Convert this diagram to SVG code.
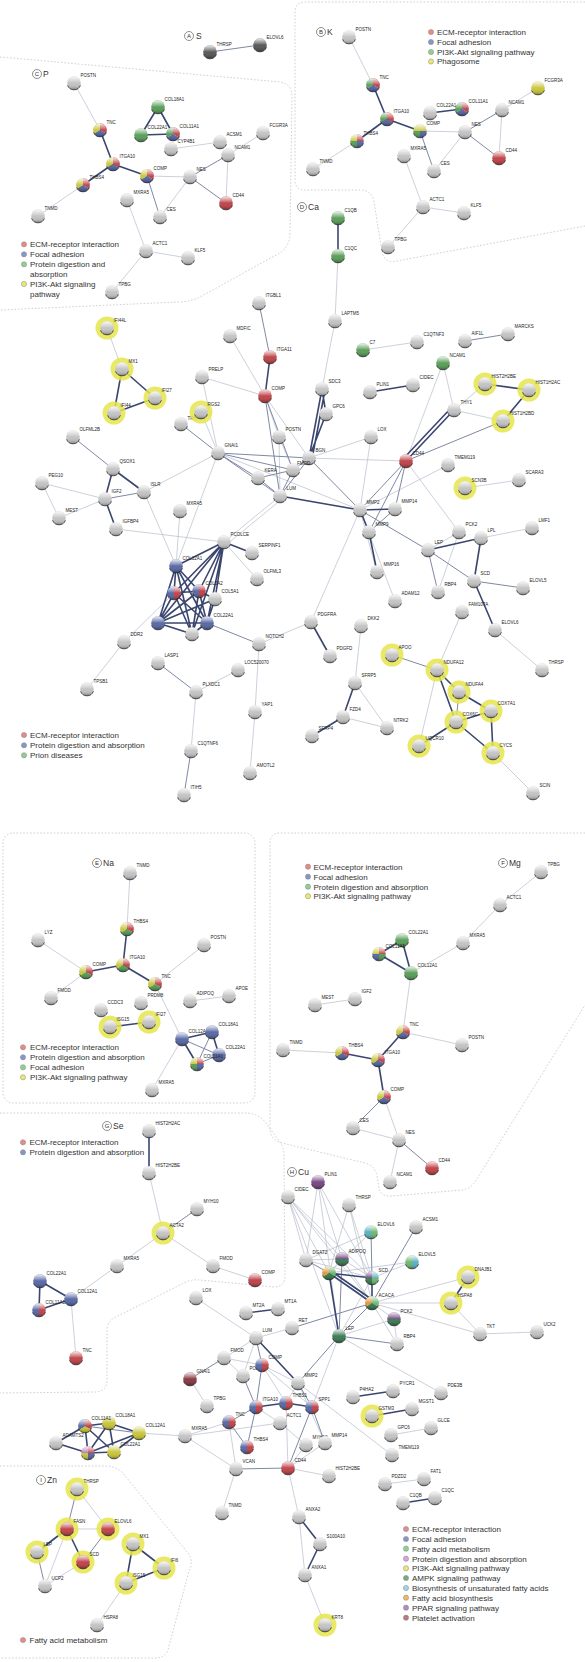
<svg xmlns="http://www.w3.org/2000/svg" xmlns:xlink="http://www.w3.org/1999/xlink" width="585" height="1662" viewBox="0 0 585 1662">
<style>
.l{font-family:"Liberation Sans",Arial,sans-serif;font-size:4.5px;fill:#222}
.lg{font-family:"Liberation Sans",Arial,sans-serif;font-size:8px;fill:#333}
.pn{font-family:"Liberation Sans",Arial,sans-serif;font-size:8.5px;fill:#333}
.pl{font-family:"Liberation Sans",Arial,sans-serif;font-size:6px;fill:#333;text-anchor:middle}
.pc{fill:#fff;stroke:#444;stroke-width:.6}
.ol{fill:none;stroke:#c4c4c4;stroke-width:.8;stroke-dasharray:1.6 1.8}
.e1{fill:none;stroke:#b8bccb;stroke-width:.7}
.e2{fill:none;stroke:#7f88a5;stroke-width:1}
.e3{fill:none;stroke:#3a4670;stroke-width:1.6}
.gy{fill:#c4c4c4}.dk{fill:#5a5a5a}
.R{fill:#c0474c}.B{fill:#5b6ba6}.G{fill:#5c9f5c}.Y{fill:#c9c63e}
.T{fill:#5fb0c2}.FA{fill:#72b872}.AM{fill:#3f7d57}.O{fill:#dc9a3e}.PP{fill:#7a4a86}.PD{fill:#b77ab7}.PA{fill:#8a3d47}
.rg{fill:#e5e54a;fill-opacity:.85}
.ld{stroke:#888;stroke-width:.5}
.lr{fill:#e68a8a}.lb{fill:#8796c8}.lgn{fill:#8fcf8f}.ly{fill:#e8e872}.lt{fill:#9ad6e6}.lo{fill:#f0b866}.lpd{fill:#dca0dc}.lpp{fill:#b48ac4}.lam{fill:#6fae82}.lpa{fill:#b87884}
</style>
<defs>
<linearGradient id="gl" x1="0" y1="0" x2="0" y2="1">
<stop offset="0" stop-color="#fff" stop-opacity=".9"/>
<stop offset=".35" stop-color="#fff" stop-opacity=".3"/>
<stop offset=".5" stop-color="#fff" stop-opacity="0"/>
<stop offset=".8" stop-color="#000" stop-opacity=".08"/>
<stop offset="1" stop-color="#000" stop-opacity=".35"/>
</linearGradient>
<g id="sh"><circle r="6.8" fill="url(#gl)"/><path d="M-6.4,2.3A6.8,6.8 0 0 0 6.4,2.3" fill="none" stroke="#222" stroke-width="1" stroke-opacity=".75"/></g>
<path id="a3" d="M0,0L0,-6.8A6.8,6.8 0 0 1 5.889,3.4Z"/>
<path id="b3" d="M0,0L5.889,3.4A6.8,6.8 0 0 1 -5.889,3.4Z"/>
<path id="c3" d="M0,0L-5.889,3.4A6.8,6.8 0 0 1 0,-6.8Z"/>
<path id="a4" d="M0,0L0,-6.8A6.8,6.8 0 0 1 6.8,0Z"/>
<path id="b4" d="M0,0L6.8,0A6.8,6.8 0 0 1 0,6.8Z"/>
<path id="c4" d="M0,0L0,6.8A6.8,6.8 0 0 1 -6.8,0Z"/>
<path id="d4" d="M0,0L-6.8,0A6.8,6.8 0 0 1 0,-6.8Z"/>
<path id="a2" d="M0,0L0,-6.8A6.8,6.8 0 0 1 0,6.8Z"/>
<path id="b2" d="M0,0L0,6.8A6.8,6.8 0 0 1 0,-6.8Z"/>
</defs>
<rect width="585" height="1662" fill="#fff"/>

<g id="outlines">
<path class="ol" d="M585,2L305,2Q295,2 295,12L295,180Q295,190 305,190L360,190Q372,190 374,202L382,252Q385,264 397,261L585,226"/>
<path class="ol" d="M0,57L280,82Q292,84 292,96L290,235Q289,248 278,254L200,297Q190,302 178,302L0,310"/>
<rect class="ol" x="3" y="833" width="252" height="270" rx="10"/>
<path class="ol" d="M585,833L280,833Q270,833 270,843L270,1128Q270,1140 282,1143L365,1163Q375,1166 377,1176L379,1188Q381,1197 392,1196L462,1190Q470,1189 475,1182L585,1005"/>
<path class="ol" d="M0,1113L245,1113Q258,1113 265,1122L280,1142Q284,1148 284,1156L285,1276Q285,1287 274,1287L200,1280Q190,1279 182,1284L114,1318Q107,1322 107,1330L107,1380Q107,1392 95,1392L0,1393"/>
<path class="ol" d="M0,1466L105,1466Q115,1466 122,1472L188,1553Q194,1562 189,1571L168,1650Q165,1658 155,1658L0,1658"/>
</g>

<g id="panel-labels">
<circle class="pc" cx="189" cy="36" r="4.5"/><text class="pl" x="189" y="38.1">A</text><text class="pn" x="196" y="39">S</text>
<circle class="pc" cx="321" cy="32" r="4.5"/><text class="pl" x="321" y="34.1">B</text><text class="pn" x="327" y="35">K</text>
<circle class="pc" cx="37" cy="74" r="4.5"/><text class="pl" x="37" y="76.1">C</text><text class="pn" x="43" y="77">P</text>
<circle class="pc" cx="302" cy="207" r="4.5"/><text class="pl" x="302" y="209.1">D</text><text class="pn" x="308" y="210">Ca</text>
<circle class="pc" cx="97" cy="863" r="4.5"/><text class="pl" x="97" y="865.1">E</text><text class="pn" x="103" y="866">Na</text>
<circle class="pc" cx="503" cy="863" r="4.5"/><text class="pl" x="503" y="865.1">F</text><text class="pn" x="509" y="866">Mg</text>
<circle class="pc" cx="107" cy="1126" r="4.5"/><text class="pl" x="107" y="1128.1">G</text><text class="pn" x="113" y="1129">Se</text>
<circle class="pc" cx="292" cy="1172" r="4.5"/><text class="pl" x="292" y="1174.1">H</text><text class="pn" x="298" y="1175">Cu</text>
<circle class="pc" cx="41" cy="1480" r="4.5"/><text class="pl" x="41" y="1482.1">I</text><text class="pn" x="47" y="1483">Zn</text>
</g>

<g id="legends">
<g id="legend-B">
<circle class="ld lr" cx="431" cy="32" r="2.6"/><text class="lg" x="437" y="34.8">ECM-receptor interaction</text>
<circle class="ld lb" cx="431" cy="42" r="2.6"/><text class="lg" x="437" y="44.8">Focal adhesion</text>
<circle class="ld lgn" cx="431" cy="52" r="2.6"/><text class="lg" x="437" y="54.8">PI3K-Akt signaling pathway</text>
<circle class="ld ly" cx="431" cy="61.5" r="2.6"/><text class="lg" x="437" y="64.3">Phagosome</text>
</g>
<g id="legend-C">
<circle class="ld lr" cx="24" cy="244.3" r="2.6"/><text class="lg" x="30" y="247.1">ECM-receptor interaction</text>
<circle class="ld lb" cx="24" cy="254.3" r="2.6"/><text class="lg" x="30" y="257.1">Focal adhesion</text>
<circle class="ld lgn" cx="24" cy="264.3" r="2.6"/><text class="lg" x="30" y="267.1">Protein digestion and</text>
<text class="lg" x="30" y="276.8">absorption</text>
<circle class="ld ly" cx="24" cy="284" r="2.6"/><text class="lg" x="30" y="286.8">PI3K-Akt signaling</text>
<text class="lg" x="30" y="296.8">pathway</text>
</g>
<g id="legend-D">
<circle class="ld lr" cx="24" cy="735" r="2.6"/><text class="lg" x="30" y="737.8">ECM-receptor interaction</text>
<circle class="ld lb" cx="24" cy="745.3" r="2.6"/><text class="lg" x="30" y="748.1">Protein digestion and absorption</text>
<circle class="ld lgn" cx="24" cy="755.3" r="2.6"/><text class="lg" x="30" y="758.1">Prion diseases</text>
</g>
<g id="legend-E">
<circle class="ld lr" cx="23" cy="1047.3" r="2.6"/><text class="lg" x="30" y="1050.1">ECM-receptor interaction</text>
<circle class="ld lb" cx="23" cy="1057.3" r="2.6"/><text class="lg" x="30" y="1060.1">Protein digestion and absorption</text>
<circle class="ld lgn" cx="23" cy="1067.3" r="2.6"/><text class="lg" x="30" y="1070.1">Focal adhesion</text>
<circle class="ld ly" cx="23" cy="1077.3" r="2.6"/><text class="lg" x="30" y="1080.1">PI3K-Akt signaling pathway</text>
</g>
<g id="legend-F">
<circle class="ld lr" cx="308" cy="866.7" r="2.6"/><text class="lg" x="313.5" y="869.5">ECM-receptor interaction</text>
<circle class="ld lb" cx="308" cy="876.7" r="2.6"/><text class="lg" x="313.5" y="879.5">Focal adhesion</text>
<circle class="ld lgn" cx="308" cy="886.7" r="2.6"/><text class="lg" x="313.5" y="889.5">Protein digestion and absorption</text>
<circle class="ld ly" cx="308" cy="896.2" r="2.6"/><text class="lg" x="313.5" y="899">PI3K-Akt signaling pathway</text>
</g>
<g id="legend-G">
<circle class="ld lr" cx="23" cy="1142.3" r="2.6"/><text class="lg" x="29.5" y="1145.1">ECM-receptor interaction</text>
<circle class="ld lb" cx="23" cy="1152.3" r="2.6"/><text class="lg" x="29.5" y="1155.1">Protein digestion and absorption</text>
</g>
<g id="legend-H">
<circle class="ld lr" cx="406" cy="1529" r="2.6"/><text class="lg" x="412" y="1531.8">ECM-receptor interaction</text>
<circle class="ld lb" cx="406" cy="1539" r="2.6"/><text class="lg" x="412" y="1541.8">Focal adhesion</text>
<circle class="ld lgn" cx="406" cy="1548.7" r="2.6"/><text class="lg" x="412" y="1551.5">Fatty acid metabolism</text>
<circle class="ld lpd" cx="406" cy="1558.7" r="2.6"/><text class="lg" x="412" y="1561.5">Protein digestion and absorption</text>
<circle class="ld ly" cx="406" cy="1568.3" r="2.6"/><text class="lg" x="412" y="1571.1">PI3K-Akt signaling pathway</text>
<circle class="ld lam" cx="406" cy="1578" r="2.6"/><text class="lg" x="412" y="1580.8">AMPK signaling pathway</text>
<circle class="ld lt" cx="406" cy="1588" r="2.6"/><text class="lg" x="412" y="1590.8">Biosynthesis of unsaturated fatty acids</text>
<circle class="ld lo" cx="406" cy="1597.7" r="2.6"/><text class="lg" x="412" y="1600.5">Fatty acid biosynthesis</text>
<circle class="ld lpp" cx="406" cy="1607.7" r="2.6"/><text class="lg" x="412" y="1610.5">PPAR signaling pathway</text>
<circle class="ld lpa" cx="406" cy="1617.7" r="2.6"/><text class="lg" x="412" y="1620.5">Platelet activation</text>
</g>
<g id="legend-I">
<circle class="ld lr" cx="23" cy="1640" r="2.6"/><text class="lg" x="29.5" y="1642.8">Fatty acid metabolism</text>
</g>
</g>

<g id="connectors">
<path class="e2" d="M210,52L260,45"/>
<path class="e1" d="M74,83L100,130M83,185L38,216M147,176L190,177M190,177L160,217M228,155L226,203M228,155L263,133M171,149L220,142M127,200L146,251M146,251L188,258M146,251L112,292"/>
<path class="e2" d="M147,176L160,217M190,177L228,155M190,177L226,203"/>
<path class="e3" d="M100,130L113,164M113,164L83,185M113,164L147,176M158,107L141,135M158,107L173,134M141,135L173,134"/>
<path class="e1" d="M349,37L373,85M357,141L313,169M420,131L465,132M465,132L434,171M502,110L499,158M502,110L538,88M404,156L423,207M423,207L464,213M423,207L388,247"/>
<path class="e2" d="M420,131L434,171M465,132L502,110M465,132L499,158"/>
<path class="e3" d="M373,85L387,119M387,119L357,141M387,119L420,131M430,113L462,109"/>
<path class="e1" d="M338,256L335,321M335,321L322,389M363,350L417,342M443,363L454,410M443,363L406,461M454,410L485,384M454,410L503,421M406,461L309,458M406,461L459,532M448,465L360,510M465,488L519,480M371,437L309,458M371,437L360,510M230,336L265,396M202,377L265,396M202,377L218,453M265,396L279,437M265,396L309,458M279,437L280,496M279,437L293,470M201,412L218,453M218,453L360,510M218,453L144,492M218,453L176,566M180,511L176,566M144,492L176,566M105,499L42,483M105,499L59,518M42,483L59,518M116,529L224,542M107,328L122,369M224,542L280,496M226,545L282,499M224,542L257,579M360,510L377,572M360,510L311,622M360,510L395,601M428,550L459,532M459,532L438,592M481,538L532,528M495,630L542,670M462,612L437,670M419,746L437,670M493,753L533,793M311,622L259,644M361,626L355,683M355,683L387,728M343,717L387,728M259,644L255,712M255,712L250,773M196,692L238,670M196,692L191,751M124,642L87,689M124,642L174,593"/>
<path class="e2" d="M465,341L508,334M406,461L503,421M406,461L360,510M406,461L395,509M406,461L369,532M309,458L293,470M309,458L280,496M309,458L360,510M293,470L258,478M293,470L280,496M258,478L280,496M259,303L270,357M265,396L280,496M265,396L293,470M181,424L218,453M218,453L293,470M218,453L258,478M218,453L280,496M218,453L309,458M144,492L105,499M113,469L73,437M395,509L369,532M360,510L428,550M428,550L438,592M428,550L474,581M474,581L523,588M392,655L437,670M459,692L456,722M259,644L207,623M158,663L196,692M191,751L184,795"/>
<path class="e3" d="M338,218L338,256M322,389L326,414M322,389L309,458M325,390L312,459M326,414L309,458M370,392L413,385M485,384L529,390M529,390L503,421M454,410L406,461M451,408L403,459M270,357L265,396M122,369L155,398M122,369L114,413M114,413L155,398M144,492L113,469M113,469L105,499M105,499L116,529M224,542L252,553M224,542L176,566M224,542L174,593M224,542L199,591M224,542L215,599M224,542L158,623M224,542L192,634M224,542L207,623M176,566L174,593M176,566L199,591M176,566L158,623M176,566L192,634M176,566L207,623M174,593L199,591M174,593L158,623M174,593L192,634M174,593L207,623M199,591L215,599M199,591L158,623M199,591L192,634M199,591L207,623M215,599L207,623M158,623L192,634M158,623L207,623M192,634L207,623M215,599L158,623M280,496L360,510M360,510L395,509M360,510L369,532M369,532L377,572M428,550L481,538M481,538L474,581M474,581L495,630M437,670L459,692M437,670L456,722M459,692L491,711M491,711L456,722M491,711L493,753M456,722L493,753M456,722L419,746M311,622L330,656M355,683L343,717M343,717L312,736"/>
<path class="e1" d="M130,873L127,929M86,972L38,940M86,972L51,998M155,984L204,945M155,984L182,1039M190,1001L229,996M182,1039L152,1090"/>
<path class="e2" d="M182,1039L219,1055M212,1032L197,1064M219,1055L197,1064"/>
<path class="e3" d="M127,929L123,965M123,965L86,972M123,965L155,984M110,1027L149,1022M182,1039L212,1032M182,1039L197,1064M212,1032L219,1055"/>
<path class="e1" d="M541,872L500,905M500,905L463,943M463,943L411,973M411,973L403,1032M315,1005L355,999M403,1032L462,1045M342,1053L283,1050M384,1097L399,1140M353,1128L399,1140M399,1140L390,1182"/>
<path class="e2" d="M384,1097L353,1128M399,1140L432,1168"/>
<path class="e3" d="M402,940L379,954M402,940L411,973M379,954L411,973M403,1032L378,1060M378,1060L342,1053M378,1060L384,1097"/>
<path class="e1" d="M149,1173L163,1233M163,1233L117,1266M163,1233L213,1266M213,1266L255,1280M117,1266L71,1299M71,1299L76,1358"/>
<path class="e2" d="M163,1233L197,1209"/>
<path class="e3" d="M149,1131L149,1173M40,1281L71,1299M40,1281L39,1310M71,1299L39,1310"/>
<path class="e1" d="M77,1489L108,1529M67,1529L108,1529M67,1529L45,1586M83,1562L45,1586M126,1583L97,1625"/>
<path class="e2" d="M77,1489L67,1529M108,1529L83,1562M37,1552L45,1586"/>
<path class="e3" d="M67,1529L83,1562M67,1529L37,1552M133,1544L164,1568M133,1544L126,1583M126,1583L164,1568"/>
<path class="e1" d="M288,1197L342,1259M288,1197L329,1273M288,1197L339,1336M288,1197L372,1278M288,1197L306,1260M288,1197L372,1303M318,1182L342,1259M318,1182L339,1336M318,1182L306,1260M318,1182L372,1278M349,1205L329,1273M349,1205L372,1278M349,1205L372,1303M371,1232L306,1260M371,1232L329,1273M412,1262L372,1278M412,1262L329,1273M306,1260L342,1259M306,1260L372,1278M342,1259L329,1273M342,1259L372,1278M342,1259L372,1303M372,1278L339,1336M372,1303L394,1319M372,1303L397,1344M372,1303L468,1277M372,1303L451,1303M372,1303L480,1334M394,1319L397,1344M339,1336L394,1319M451,1303L480,1334M480,1334L537,1332M339,1336L312,1407M339,1336L441,1393M196,1298L256,1338M256,1338L292,1328M256,1338L224,1358M256,1338L243,1376M224,1358L262,1365M224,1358L243,1376M262,1365L298,1383M262,1365L286,1403M262,1365L312,1407M190,1379L207,1406M229,1422L185,1436M236,1469L222,1513M236,1469L185,1436M236,1469L229,1422M288,1468L325,1443M288,1468L329,1476M288,1468L299,1517M288,1468L306,1445M288,1468L286,1403M299,1517L305,1575M305,1575L325,1625M298,1383L325,1443M298,1383L392,1455M280,1423L306,1445M280,1423L256,1407M280,1423L185,1436M298,1383L286,1403M391,1435L431,1428M385,1484L424,1479M185,1436L139,1433"/>
<path class="e2" d="M371,1232L372,1278M416,1227L372,1303M306,1260L329,1273M342,1259L339,1336M372,1303L339,1336M372,1303L292,1328M339,1336L397,1344M339,1336L298,1383M256,1338L262,1365M190,1379L224,1358M262,1365L256,1407M243,1376L256,1407M256,1407L229,1422M229,1422L247,1447M256,1407L247,1447M236,1469L288,1468M288,1468L312,1407M312,1407L325,1443M312,1407L298,1383M85,1426L139,1433"/>
<path class="e3" d="M329,1273L372,1278M329,1273L372,1303M331,1271L374,1301M329,1273L339,1336M372,1278L372,1303M468,1277L451,1303M246,1313L278,1309M256,1338L298,1383M256,1407L286,1403M286,1403L312,1407M299,1517L320,1544M320,1544L305,1575M353,1397L393,1391M372,1416L412,1409M403,1503L435,1498M85,1426L109,1423M85,1426L56,1443M85,1426L88,1453M85,1426L114,1452M109,1423L139,1433M109,1423L114,1452M109,1423L88,1453M139,1433L114,1452M139,1433L88,1453M114,1452L88,1453M56,1443L88,1453"/>
</g>

<g id="nodes-A">
<g id="a-THRSP" transform="translate(210,52)"><circle class="dk" r="6.8"/><use href="#sh"/><text class="l" x="6.5" y="-6">THRSP</text></g>
<g id="a-ELOVL6" transform="translate(260,45)"><circle class="dk" r="6.8"/><use href="#sh"/><text class="l" x="6.5" y="-6">ELOVL6</text></g>
</g>

<g id="nodes-C">
<g id="c-POSTN" transform="translate(74,83)"><circle class="gy" r="6.8"/><use href="#sh"/><text class="l" x="6.5" y="-6">POSTN</text></g>
<g id="c-TNC" transform="translate(100,130)"><use href="#a3" class="R"/><use href="#b3" class="B"/><use href="#c3" class="Y"/><use href="#sh"/><text class="l" x="6.5" y="-6">TNC</text></g>
<g id="c-ITGA10" transform="translate(113,164)"><use href="#a3" class="R"/><use href="#b3" class="B"/><use href="#c3" class="Y"/><use href="#sh"/><text class="l" x="6.5" y="-6">ITGA10</text></g>
<g id="c-THBS4" transform="translate(83,185)"><use href="#a3" class="R"/><use href="#b3" class="B"/><use href="#c3" class="Y"/><use href="#sh"/><text class="l" x="6.5" y="-6">THBS4</text></g>
<g id="c-TNMD" transform="translate(38,216)"><circle class="gy" r="6.8"/><use href="#sh"/><text class="l" x="6.5" y="-6">TNMD</text></g>
<g id="c-COMP" transform="translate(147,176)"><use href="#a3" class="R"/><use href="#b3" class="B"/><use href="#c3" class="Y"/><use href="#sh"/><text class="l" x="6.5" y="-6">COMP</text></g>
<g id="c-COL18A1" transform="translate(158,107)"><circle class="G" r="6.8"/><use href="#sh"/><text class="l" x="6.5" y="-6">COL18A1</text></g>
<g id="c-COL22A1" transform="translate(141,135)"><circle class="G" r="6.8"/><use href="#sh"/><text class="l" x="6.5" y="-6">COL22A1</text></g>
<g id="c-COL11A1" transform="translate(173,134)"><use href="#a3" class="R"/><use href="#b3" class="B"/><use href="#c3" class="G"/><use href="#sh"/><text class="l" x="6.5" y="-6">COL11A1</text></g>
<g id="c-CYP4B1" transform="translate(171,149)"><circle class="gy" r="6.8"/><use href="#sh"/><text class="l" x="6.5" y="-6">CYP4B1</text></g>
<g id="c-ACSM1" transform="translate(220,142)"><circle class="gy" r="6.8"/><use href="#sh"/><text class="l" x="6.5" y="-6">ACSM1</text></g>
<g id="c-FCGR3A" transform="translate(263,133)"><circle class="gy" r="6.8"/><use href="#sh"/><text class="l" x="6.5" y="-6">FCGR3A</text></g>
<g id="c-NCAM1" transform="translate(228,155)"><circle class="gy" r="6.8"/><use href="#sh"/><text class="l" x="6.5" y="-6">NCAM1</text></g>
<g id="c-NES" transform="translate(190,177)"><circle class="gy" r="6.8"/><use href="#sh"/><text class="l" x="6.5" y="-6">NES</text></g>
<g id="c-CD44" transform="translate(226,203)"><circle class="R" r="6.8"/><use href="#sh"/><text class="l" x="6.5" y="-6">CD44</text></g>
<g id="c-CES" transform="translate(160,217)"><circle class="gy" r="6.8"/><use href="#sh"/><text class="l" x="6.5" y="-6">CES</text></g>
<g id="c-MXRA5" transform="translate(127,200)"><circle class="gy" r="6.8"/><use href="#sh"/><text class="l" x="6.5" y="-6">MXRA5</text></g>
<g id="c-ACTC1" transform="translate(146,251)"><circle class="gy" r="6.8"/><use href="#sh"/><text class="l" x="6.5" y="-6">ACTC1</text></g>
<g id="c-KLF5" transform="translate(188,258)"><circle class="gy" r="6.8"/><use href="#sh"/><text class="l" x="6.5" y="-6">KLF5</text></g>
<g id="c-TPBG" transform="translate(112,292)"><circle class="gy" r="6.8"/><use href="#sh"/><text class="l" x="6.5" y="-6">TPBG</text></g>
</g>

<g id="nodes-B">
<g id="b-POSTN" transform="translate(349,37)"><circle class="gy" r="6.8"/><use href="#sh"/><text class="l" x="6.5" y="-6">POSTN</text></g>
<g id="b-TNC" transform="translate(373,85)"><use href="#a3" class="R"/><use href="#b3" class="B"/><use href="#c3" class="G"/><use href="#sh"/><text class="l" x="6.5" y="-6">TNC</text></g>
<g id="b-ITGA10" transform="translate(387,119)"><use href="#a3" class="R"/><use href="#b3" class="B"/><use href="#c3" class="G"/><use href="#sh"/><text class="l" x="6.5" y="-6">ITGA10</text></g>
<g id="b-THBS4" transform="translate(357,141)"><use href="#a4" class="R"/><use href="#b4" class="B"/><use href="#c4" class="G"/><use href="#d4" class="Y"/><use href="#sh"/><text class="l" x="6.5" y="-6">THBS4</text></g>
<g id="b-TNMD" transform="translate(313,169)"><circle class="gy" r="6.8"/><use href="#sh"/><text class="l" x="6.5" y="-6">TNMD</text></g>
<g id="b-COMP" transform="translate(420,131)"><use href="#a4" class="Y"/><use href="#b4" class="B"/><use href="#c4" class="G"/><use href="#d4" class="Y"/><use href="#sh"/><text class="l" x="6.5" y="-6">COMP</text></g>
<g id="b-COL22A1" transform="translate(430,113)"><circle class="gy" r="6.8"/><use href="#sh"/><text class="l" x="6.5" y="-6">COL22A1</text></g>
<g id="b-COL11A1" transform="translate(462,109)"><use href="#a3" class="R"/><use href="#b3" class="B"/><use href="#c3" class="G"/><use href="#sh"/><text class="l" x="6.5" y="-6">COL11A1</text></g>
<g id="b-NES" transform="translate(465,132)"><circle class="gy" r="6.8"/><use href="#sh"/><text class="l" x="6.5" y="-6">NES</text></g>
<g id="b-NCAM1" transform="translate(502,110)"><circle class="gy" r="6.8"/><use href="#sh"/><text class="l" x="6.5" y="-6">NCAM1</text></g>
<g id="b-FCGR3A" transform="translate(538,88)"><circle class="Y" r="6.8"/><use href="#sh"/><text class="l" x="6.5" y="-6">FCGR3A</text></g>
<g id="b-CD44" transform="translate(499,158)"><circle class="R" r="6.8"/><use href="#sh"/><text class="l" x="6.5" y="-6">CD44</text></g>
<g id="b-CES" transform="translate(434,171)"><circle class="gy" r="6.8"/><use href="#sh"/><text class="l" x="6.5" y="-6">CES</text></g>
<g id="b-MXRA5" transform="translate(404,156)"><circle class="gy" r="6.8"/><use href="#sh"/><text class="l" x="6.5" y="-6">MXRA5</text></g>
<g id="b-ACTC1" transform="translate(423,207)"><circle class="gy" r="6.8"/><use href="#sh"/><text class="l" x="6.5" y="-6">ACTC1</text></g>
<g id="b-KLF5" transform="translate(464,213)"><circle class="gy" r="6.8"/><use href="#sh"/><text class="l" x="6.5" y="-6">KLF5</text></g>
<g id="b-TPBG" transform="translate(388,247)"><circle class="gy" r="6.8"/><use href="#sh"/><text class="l" x="6.5" y="-6">TPBG</text></g>
</g>

<g id="nodes-D">
<g id="d-C1QB" transform="translate(338,218)"><circle class="G" r="6.8"/><use href="#sh"/><text class="l" x="6.5" y="-6">C1QB</text></g>
<g id="d-C1QC" transform="translate(338,256)"><circle class="G" r="6.8"/><use href="#sh"/><text class="l" x="6.5" y="-6">C1QC</text></g>
<g id="d-LAPTM5" transform="translate(335,321)"><circle class="gy" r="6.8"/><use href="#sh"/><text class="l" x="6.5" y="-6">LAPTM5</text></g>
<g id="d-C7" transform="translate(363,350)"><circle class="G" r="6.8"/><use href="#sh"/><text class="l" x="6.5" y="-6">C7</text></g>
<g id="d-C1QTNF3" transform="translate(417,342)"><circle class="gy" r="6.8"/><use href="#sh"/><text class="l" x="6.5" y="-6">C1QTNF3</text></g>
<g id="d-AIF1L" transform="translate(465,341)"><circle class="gy" r="6.8"/><use href="#sh"/><text class="l" x="6.5" y="-6">AIF1L</text></g>
<g id="d-MARCKS" transform="translate(508,334)"><circle class="gy" r="6.8"/><use href="#sh"/><text class="l" x="6.5" y="-6">MARCKS</text></g>
<g id="d-NCAM1" transform="translate(443,363)"><circle class="G" r="6.8"/><use href="#sh"/><text class="l" x="6.5" y="-6">NCAM1</text></g>
<g id="d-PLIN1" transform="translate(370,392)"><circle class="gy" r="6.8"/><use href="#sh"/><text class="l" x="6.5" y="-6">PLIN1</text></g>
<g id="d-CIDEC" transform="translate(413,385)"><circle class="gy" r="6.8"/><use href="#sh"/><text class="l" x="6.5" y="-6">CIDEC</text></g>
<g id="d-HIST2H2BE" transform="translate(485,384)"><circle class="rg" r="11.5"/><circle class="gy" r="6.8"/><use href="#sh"/><text class="l" x="6.5" y="-6">HIST2H2BE</text></g>
<g id="d-HIST1H2AC" transform="translate(529,390)"><circle class="rg" r="11.5"/><circle class="gy" r="6.8"/><use href="#sh"/><text class="l" x="6.5" y="-6">HIST1H2AC</text></g>
<g id="d-HIST1H2BD" transform="translate(503,421)"><circle class="rg" r="11.5"/><circle class="gy" r="6.8"/><use href="#sh"/><text class="l" x="6.5" y="-6">HIST1H2BD</text></g>
<g id="d-THY1" transform="translate(454,410)"><circle class="gy" r="6.8"/><use href="#sh"/><text class="l" x="6.5" y="-6">THY1</text></g>
<g id="d-SDC3" transform="translate(322,389)"><circle class="gy" r="6.8"/><use href="#sh"/><text class="l" x="6.5" y="-6">SDC3</text></g>
<g id="d-GPC6" transform="translate(326,414)"><circle class="gy" r="6.8"/><use href="#sh"/><text class="l" x="6.5" y="-6">GPC6</text></g>
<g id="d-LOX" transform="translate(371,437)"><circle class="gy" r="6.8"/><use href="#sh"/><text class="l" x="6.5" y="-6">LOX</text></g>
<g id="d-BGN" transform="translate(309,458)"><circle class="gy" r="6.8"/><use href="#sh"/><text class="l" x="6.5" y="-6">BGN</text></g>
<g id="d-FMOD" transform="translate(293,470)"><circle class="gy" r="6.8"/><use href="#sh"/><text class="l" x="4" y="-5">FMOD</text></g>
<g id="d-KERA" transform="translate(258,478)"><circle class="gy" r="6.8"/><use href="#sh"/><text class="l" x="6.5" y="-6">KERA</text></g>
<g id="d-LUM" transform="translate(280,496)"><circle class="gy" r="6.8"/><use href="#sh"/><text class="l" x="6.5" y="-6">LUM</text></g>
<g id="d-CD44" transform="translate(406,461)"><circle class="R" r="6.8"/><use href="#sh"/><text class="l" x="6.5" y="-6">CD44</text></g>
<g id="d-TMEM119" transform="translate(448,465)"><circle class="gy" r="6.8"/><use href="#sh"/><text class="l" x="6.5" y="-6">TMEM119</text></g>
<g id="d-SCN3B" transform="translate(465,488)"><circle class="rg" r="11.5"/><circle class="gy" r="6.8"/><use href="#sh"/><text class="l" x="6.5" y="-6">SCN3B</text></g>
<g id="d-SCARA3" transform="translate(519,480)"><circle class="gy" r="6.8"/><use href="#sh"/><text class="l" x="6.5" y="-6">SCARA3</text></g>
<g id="d-MMP2" transform="translate(360,510)"><circle class="gy" r="6.8"/><use href="#sh"/><text class="l" x="6.5" y="-6">MMP2</text></g>
<g id="d-MMP14" transform="translate(395,509)"><circle class="gy" r="6.8"/><use href="#sh"/><text class="l" x="6.5" y="-6">MMP14</text></g>
<g id="d-MMP9" transform="translate(369,532)"><circle class="gy" r="6.8"/><use href="#sh"/><text class="l" x="6.5" y="-6">MMP9</text></g>
<g id="d-LMF1" transform="translate(532,528)"><circle class="gy" r="6.8"/><use href="#sh"/><text class="l" x="6.5" y="-6">LMF1</text></g>
<g id="d-ITGBL1" transform="translate(259,303)"><circle class="gy" r="6.8"/><use href="#sh"/><text class="l" x="6.5" y="-6">ITGBL1</text></g>
<g id="d-MDFIC" transform="translate(230,336)"><circle class="gy" r="6.8"/><use href="#sh"/><text class="l" x="6.5" y="-6">MDFIC</text></g>
<g id="d-ITGA11" transform="translate(270,357)"><circle class="R" r="6.8"/><use href="#sh"/><text class="l" x="6.5" y="-6">ITGA11</text></g>
<g id="d-COMP" transform="translate(265,396)"><circle class="R" r="6.8"/><use href="#sh"/><text class="l" x="6.5" y="-6">COMP</text></g>
<g id="d-PRELP" transform="translate(202,377)"><circle class="gy" r="6.8"/><use href="#sh"/><text class="l" x="6.5" y="-6">PRELP</text></g>
<g id="d-IFI44L" transform="translate(107,328)"><circle class="rg" r="11.5"/><circle class="gy" r="6.8"/><use href="#sh"/><text class="l" x="6.5" y="-6">IFI44L</text></g>
<g id="d-MX1" transform="translate(122,369)"><circle class="rg" r="11.5"/><circle class="gy" r="6.8"/><use href="#sh"/><text class="l" x="6.5" y="-6">MX1</text></g>
<g id="d-IFI27" transform="translate(155,398)"><circle class="rg" r="11.5"/><circle class="gy" r="6.8"/><use href="#sh"/><text class="l" x="6.5" y="-6">IFI27</text></g>
<g id="d-IFI44" transform="translate(114,413)"><circle class="rg" r="11.5"/><circle class="gy" r="6.8"/><use href="#sh"/><text class="l" x="6.5" y="-6">IFI44</text></g>
<g id="d-TRH" transform="translate(181,424)"><circle class="gy" r="6.8"/><use href="#sh"/><text class="l" x="6.5" y="-4">TRH</text></g>
<g id="d-RGS2" transform="translate(201,412)"><circle class="rg" r="11.5"/><circle class="gy" r="6.8"/><use href="#sh"/><text class="l" x="6.5" y="-6">RGS2</text></g>
<g id="d-POSTN" transform="translate(279,437)"><circle class="gy" r="6.8"/><use href="#sh"/><text class="l" x="6.5" y="-6">POSTN</text></g>
<g id="d-GNAI1" transform="translate(218,453)"><circle class="gy" r="6.8"/><use href="#sh"/><text class="l" x="6.5" y="-6">GNAI1</text></g>
<g id="d-OLFML2B" transform="translate(73,437)"><circle class="gy" r="6.8"/><use href="#sh"/><text class="l" x="6.5" y="-6">OLFML2B</text></g>
<g id="d-QSOX1" transform="translate(113,469)"><circle class="gy" r="6.8"/><use href="#sh"/><text class="l" x="6.5" y="-6">QSOX1</text></g>
<g id="d-PEG10" transform="translate(42,483)"><circle class="gy" r="6.8"/><use href="#sh"/><text class="l" x="6.5" y="-6">PEG10</text></g>
<g id="d-IGF2" transform="translate(105,499)"><circle class="gy" r="6.8"/><use href="#sh"/><text class="l" x="6.5" y="-6">IGF2</text></g>
<g id="d-ISLR" transform="translate(144,492)"><circle class="gy" r="6.8"/><use href="#sh"/><text class="l" x="6.5" y="-6">ISLR</text></g>
<g id="d-MEST" transform="translate(59,518)"><circle class="gy" r="6.8"/><use href="#sh"/><text class="l" x="6.5" y="-6">MEST</text></g>
<g id="d-IGFBP4" transform="translate(116,529)"><circle class="gy" r="6.8"/><use href="#sh"/><text class="l" x="6.5" y="-6">IGFBP4</text></g>
<g id="d-MXRA5" transform="translate(180,511)"><circle class="gy" r="6.8"/><use href="#sh"/><text class="l" x="6.5" y="-6">MXRA5</text></g>
<g id="d-PCOLCE" transform="translate(224,542)"><circle class="gy" r="6.8"/><use href="#sh"/><text class="l" x="6.5" y="-6">PCOLCE</text></g>
<g id="d-SERPINF1" transform="translate(252,553)"><circle class="gy" r="6.8"/><use href="#sh"/><text class="l" x="6.5" y="-6">SERPINF1</text></g>
<g id="d-OLFML3" transform="translate(257,579)"><circle class="gy" r="6.8"/><use href="#sh"/><text class="l" x="6.5" y="-6">OLFML3</text></g>
<g id="d-COL12A1" transform="translate(176,566)"><circle class="B" r="6.8"/><use href="#sh"/><text class="l" x="6.5" y="-6">COL12A1</text></g>
<g id="d-COL1A1" transform="translate(174,593)"><use href="#a2" class="R"/><use href="#b2" class="B"/><use href="#sh"/></g>
<g id="d-COL5A2" transform="translate(199,591)"><use href="#a2" class="R"/><use href="#b2" class="B"/><use href="#sh"/><text class="l" x="6.5" y="-6">COL5A2</text></g>
<g id="d-COL5A1" transform="translate(215,599)"><circle class="gy" r="6.8"/><use href="#sh"/><text class="l" x="6.5" y="-6">COL5A1</text></g>
<g id="d-COL14A1" transform="translate(158,623)"><circle class="B" r="6.8"/><use href="#sh"/></g>
<g id="d-COL6A3" transform="translate(192,634)"><circle class="gy" r="6.8"/><use href="#sh"/></g>
<g id="d-COL22A1" transform="translate(207,623)"><circle class="B" r="6.8"/><use href="#sh"/><text class="l" x="6.5" y="-6">COL22A1</text></g>
<g id="d-DDR2" transform="translate(124,642)"><circle class="gy" r="6.8"/><use href="#sh"/><text class="l" x="6.5" y="-6">DDR2</text></g>
<g id="d-TPSB1" transform="translate(87,689)"><circle class="gy" r="6.8"/><use href="#sh"/><text class="l" x="6.5" y="-6">TPSB1</text></g>
<g id="d-LASP1" transform="translate(158,663)"><circle class="gy" r="6.8"/><use href="#sh"/><text class="l" x="6.5" y="-6">LASP1</text></g>
<g id="d-PLXDC1" transform="translate(196,692)"><circle class="gy" r="6.8"/><use href="#sh"/><text class="l" x="6.5" y="-6">PLXDC1</text></g>
<g id="d-LOC520070" transform="translate(238,670)"><circle class="gy" r="6.8"/><use href="#sh"/><text class="l" x="6.5" y="-6">LOC520070</text></g>
<g id="d-NOTCH2" transform="translate(259,644)"><circle class="gy" r="6.8"/><use href="#sh"/><text class="l" x="6.5" y="-6">NOTCH2</text></g>
<g id="d-YAP1" transform="translate(255,712)"><circle class="gy" r="6.8"/><use href="#sh"/><text class="l" x="6.5" y="-6">YAP1</text></g>
<g id="d-AMOTL2" transform="translate(250,773)"><circle class="gy" r="6.8"/><use href="#sh"/><text class="l" x="6.5" y="-6">AMOTL2</text></g>
<g id="d-C1QTNF6" transform="translate(191,751)"><circle class="gy" r="6.8"/><use href="#sh"/><text class="l" x="6.5" y="-6">C1QTNF6</text></g>
<g id="d-ITIH5" transform="translate(184,795)"><circle class="gy" r="6.8"/><use href="#sh"/><text class="l" x="6.5" y="-6">ITIH5</text></g>
<g id="d-MMP16" transform="translate(377,572)"><circle class="gy" r="6.8"/><use href="#sh"/><text class="l" x="6.5" y="-6">MMP16</text></g>
<g id="d-ADAM12" transform="translate(395,601)"><circle class="gy" r="6.8"/><use href="#sh"/><text class="l" x="6.5" y="-6">ADAM12</text></g>
<g id="d-PCK2" transform="translate(459,532)"><circle class="gy" r="6.8"/><use href="#sh"/><text class="l" x="6.5" y="-6">PCK2</text></g>
<g id="d-LPL" transform="translate(481,538)"><circle class="gy" r="6.8"/><use href="#sh"/><text class="l" x="6.5" y="-6">LPL</text></g>
<g id="d-LEP" transform="translate(428,550)"><circle class="gy" r="6.8"/><use href="#sh"/><text class="l" x="6.5" y="-6">LEP</text></g>
<g id="d-RBP4" transform="translate(438,592)"><circle class="gy" r="6.8"/><use href="#sh"/><text class="l" x="6.5" y="-6">RBP4</text></g>
<g id="d-SCD" transform="translate(474,581)"><circle class="gy" r="6.8"/><use href="#sh"/><text class="l" x="6.5" y="-6">SCD</text></g>
<g id="d-ELOVL5" transform="translate(523,588)"><circle class="gy" r="6.8"/><use href="#sh"/><text class="l" x="6.5" y="-6">ELOVL5</text></g>
<g id="d-FAM107A" transform="translate(462,612)"><circle class="gy" r="6.8"/><use href="#sh"/><text class="l" x="6.5" y="-6">FAM107A</text></g>
<g id="d-ELOVL6" transform="translate(495,630)"><circle class="gy" r="6.8"/><use href="#sh"/><text class="l" x="6.5" y="-6">ELOVL6</text></g>
<g id="d-THRSP" transform="translate(542,670)"><circle class="gy" r="6.8"/><use href="#sh"/><text class="l" x="6.5" y="-6">THRSP</text></g>
<g id="d-PDGFRA" transform="translate(311,622)"><circle class="gy" r="6.8"/><use href="#sh"/><text class="l" x="6.5" y="-6">PDGFRA</text></g>
<g id="d-PDGFD" transform="translate(330,656)"><circle class="gy" r="6.8"/><use href="#sh"/><text class="l" x="6.5" y="-6">PDGFD</text></g>
<g id="d-DKK2" transform="translate(361,626)"><circle class="gy" r="6.8"/><use href="#sh"/><text class="l" x="6.5" y="-6">DKK2</text></g>
<g id="d-SFRP5" transform="translate(355,683)"><circle class="gy" r="6.8"/><use href="#sh"/><text class="l" x="6.5" y="-6">SFRP5</text></g>
<g id="d-FZD4" transform="translate(343,717)"><circle class="gy" r="6.8"/><use href="#sh"/><text class="l" x="6.5" y="-6">FZD4</text></g>
<g id="d-SFRP4" transform="translate(312,736)"><circle class="gy" r="6.8"/><use href="#sh"/><text class="l" x="6.5" y="-6">SFRP4</text></g>
<g id="d-NTRK2" transform="translate(387,728)"><circle class="gy" r="6.8"/><use href="#sh"/><text class="l" x="6.5" y="-6">NTRK2</text></g>
<g id="d-APOO" transform="translate(392,655)"><circle class="rg" r="11.5"/><circle class="gy" r="6.8"/><use href="#sh"/><text class="l" x="6.5" y="-6">APOO</text></g>
<g id="d-NDUFA12" transform="translate(437,670)"><circle class="rg" r="11.5"/><circle class="gy" r="6.8"/><use href="#sh"/><text class="l" x="6.5" y="-6">NDUFA12</text></g>
<g id="d-NDUFA4" transform="translate(459,692)"><circle class="rg" r="11.5"/><circle class="gy" r="6.8"/><use href="#sh"/><text class="l" x="6.5" y="-6">NDUFA4</text></g>
<g id="d-COX7A1" transform="translate(491,711)"><circle class="rg" r="11.5"/><circle class="gy" r="6.8"/><use href="#sh"/><text class="l" x="6.5" y="-6">COX7A1</text></g>
<g id="d-COX6C" transform="translate(456,722)"><circle class="rg" r="11.5"/><circle class="gy" r="6.8"/><use href="#sh"/><text class="l" x="6.5" y="-6">COX6C</text></g>
<g id="d-UQCR10" transform="translate(419,746)"><circle class="rg" r="11.5"/><circle class="gy" r="6.8"/><use href="#sh"/><text class="l" x="6.5" y="-6">UQCR10</text></g>
<g id="d-CYCS" transform="translate(493,753)"><circle class="rg" r="11.5"/><circle class="gy" r="6.8"/><use href="#sh"/><text class="l" x="6.5" y="-6">CYCS</text></g>
<g id="d-SCIN" transform="translate(533,793)"><circle class="gy" r="6.8"/><use href="#sh"/><text class="l" x="6.5" y="-6">SCIN</text></g>
</g>

<g id="nodes-E">
<g id="e-TNMD" transform="translate(130,873)"><circle class="gy" r="6.8"/><use href="#sh"/><text class="l" x="6.5" y="-6">TNMD</text></g>
<g id="e-THBS4" transform="translate(127,929)"><use href="#a3" class="R"/><use href="#b3" class="G"/><use href="#c3" class="Y"/><use href="#sh"/><text class="l" x="6.5" y="-6">THBS4</text></g>
<g id="e-LYZ" transform="translate(38,940)"><circle class="gy" r="6.8"/><use href="#sh"/><text class="l" x="6.5" y="-6">LYZ</text></g>
<g id="e-POSTN" transform="translate(204,945)"><circle class="gy" r="6.8"/><use href="#sh"/><text class="l" x="6.5" y="-6">POSTN</text></g>
<g id="e-ITGA10" transform="translate(123,965)"><use href="#a3" class="R"/><use href="#b3" class="G"/><use href="#c3" class="Y"/><use href="#sh"/><text class="l" x="6.5" y="-6">ITGA10</text></g>
<g id="e-COMP" transform="translate(86,972)"><use href="#a3" class="R"/><use href="#b3" class="G"/><use href="#c3" class="Y"/><use href="#sh"/><text class="l" x="6.5" y="-6">COMP</text></g>
<g id="e-TNC" transform="translate(155,984)"><use href="#a3" class="R"/><use href="#b3" class="G"/><use href="#c3" class="Y"/><use href="#sh"/><text class="l" x="6.5" y="-6">TNC</text></g>
<g id="e-FMOD" transform="translate(51,998)"><circle class="gy" r="6.8"/><use href="#sh"/><text class="l" x="6.5" y="-6">FMOD</text></g>
<g id="e-CCDC3" transform="translate(101,1010)"><circle class="gy" r="6.8"/><use href="#sh"/><text class="l" x="6.5" y="-6">CCDC3</text></g>
<g id="e-PRDM8" transform="translate(141,1003)"><circle class="gy" r="6.8"/><use href="#sh"/><text class="l" x="6.5" y="-6">PRDM8</text></g>
<g id="e-ADIPOQ" transform="translate(190,1001)"><circle class="gy" r="6.8"/><use href="#sh"/><text class="l" x="6.5" y="-6">ADIPOQ</text></g>
<g id="e-APOE" transform="translate(229,996)"><circle class="gy" r="6.8"/><use href="#sh"/><text class="l" x="6.5" y="-6">APOE</text></g>
<g id="e-ISG15" transform="translate(110,1027)"><circle class="rg" r="11.5"/><circle class="gy" r="6.8"/><use href="#sh"/><text class="l" x="6.5" y="-6">ISG15</text></g>
<g id="e-IFI27" transform="translate(149,1022)"><circle class="rg" r="11.5"/><circle class="gy" r="6.8"/><use href="#sh"/><text class="l" x="6.5" y="-6">IFI27</text></g>
<g id="e-COL12A1" transform="translate(182,1039)"><circle class="B" r="6.8"/><use href="#sh"/><text class="l" x="6.5" y="-6">COL12A1</text></g>
<g id="e-COL18A1" transform="translate(212,1032)"><circle class="B" r="6.8"/><use href="#sh"/><text class="l" x="6.5" y="-6">COL18A1</text></g>
<g id="e-COL22A1" transform="translate(219,1055)"><circle class="B" r="6.8"/><use href="#sh"/><text class="l" x="6.5" y="-6">COL22A1</text></g>
<g id="e-COL11A1" transform="translate(197,1064)"><use href="#a4" class="R"/><use href="#b4" class="B"/><use href="#c4" class="G"/><use href="#d4" class="Y"/><use href="#sh"/><text class="l" x="6.5" y="-6">COL11A1</text></g>
<g id="e-MXRA5" transform="translate(152,1090)"><circle class="gy" r="6.8"/><use href="#sh"/><text class="l" x="6.5" y="-6">MXRA5</text></g>
</g>

<g id="nodes-F">
<g id="f-TPBG" transform="translate(541,872)"><circle class="gy" r="6.8"/><use href="#sh"/><text class="l" x="6.5" y="-6">TPBG</text></g>
<g id="f-ACTC1" transform="translate(500,905)"><circle class="gy" r="6.8"/><use href="#sh"/><text class="l" x="6.5" y="-6">ACTC1</text></g>
<g id="f-MXRA5" transform="translate(463,943)"><circle class="gy" r="6.8"/><use href="#sh"/><text class="l" x="6.5" y="-6">MXRA5</text></g>
<g id="f-COL22A1" transform="translate(402,940)"><circle class="G" r="6.8"/><use href="#sh"/><text class="l" x="6.5" y="-6">COL22A1</text></g>
<g id="f-COL11A1" transform="translate(379,954)"><use href="#a4" class="R"/><use href="#b4" class="G"/><use href="#c4" class="B"/><use href="#d4" class="Y"/><use href="#sh"/><text class="l" x="6.5" y="-6">COL11A1</text></g>
<g id="f-COL12A1" transform="translate(411,973)"><circle class="G" r="6.8"/><use href="#sh"/><text class="l" x="6.5" y="-6">COL12A1</text></g>
<g id="f-MEST" transform="translate(315,1005)"><circle class="gy" r="6.8"/><use href="#sh"/><text class="l" x="6.5" y="-6">MEST</text></g>
<g id="f-IGF2" transform="translate(355,999)"><circle class="gy" r="6.8"/><use href="#sh"/><text class="l" x="6.5" y="-6">IGF2</text></g>
<g id="f-TNC" transform="translate(403,1032)"><use href="#a3" class="R"/><use href="#b3" class="B"/><use href="#c3" class="Y"/><use href="#sh"/><text class="l" x="6.5" y="-6">TNC</text></g>
<g id="f-POSTN" transform="translate(462,1045)"><circle class="gy" r="6.8"/><use href="#sh"/><text class="l" x="6.5" y="-6">POSTN</text></g>
<g id="f-THBS4" transform="translate(342,1053)"><use href="#a3" class="R"/><use href="#b3" class="B"/><use href="#c3" class="Y"/><use href="#sh"/><text class="l" x="6.5" y="-6">THBS4</text></g>
<g id="f-TNMD" transform="translate(283,1050)"><circle class="gy" r="6.8"/><use href="#sh"/><text class="l" x="6.5" y="-6">TNMD</text></g>
<g id="f-ITGA10" transform="translate(378,1060)"><use href="#a3" class="R"/><use href="#b3" class="B"/><use href="#c3" class="Y"/><use href="#sh"/><text class="l" x="6.5" y="-6">ITGA10</text></g>
<g id="f-COMP" transform="translate(384,1097)"><use href="#a3" class="R"/><use href="#b3" class="B"/><use href="#c3" class="Y"/><use href="#sh"/><text class="l" x="6.5" y="-6">COMP</text></g>
<g id="f-CES" transform="translate(353,1128)"><circle class="gy" r="6.8"/><use href="#sh"/><text class="l" x="6.5" y="-6">CES</text></g>
<g id="f-NES" transform="translate(399,1140)"><circle class="gy" r="6.8"/><use href="#sh"/><text class="l" x="6.5" y="-6">NES</text></g>
<g id="f-CD44" transform="translate(432,1168)"><circle class="R" r="6.8"/><use href="#sh"/><text class="l" x="6.5" y="-6">CD44</text></g>
<g id="f-NCAM1" transform="translate(390,1182)"><circle class="gy" r="6.8"/><use href="#sh"/><text class="l" x="6.5" y="-6">NCAM1</text></g>
</g>

<g id="nodes-G">
<g id="g-HIST2H2AC" transform="translate(149,1131)"><circle class="gy" r="6.8"/><use href="#sh"/><text class="l" x="6.5" y="-6">HIST2H2AC</text></g>
<g id="g-HIST2H2BE" transform="translate(149,1173)"><circle class="gy" r="6.8"/><use href="#sh"/><text class="l" x="6.5" y="-6">HIST2H2BE</text></g>
<g id="g-MYH10" transform="translate(197,1209)"><circle class="gy" r="6.8"/><use href="#sh"/><text class="l" x="6.5" y="-6">MYH10</text></g>
<g id="g-ACTA2" transform="translate(163,1233)"><circle class="rg" r="11.5"/><circle class="gy" r="6.8"/><use href="#sh"/><text class="l" x="6.5" y="-6">ACTA2</text></g>
<g id="g-MXRA5" transform="translate(117,1266)"><circle class="gy" r="6.8"/><use href="#sh"/><text class="l" x="6.5" y="-6">MXRA5</text></g>
<g id="g-FMOD" transform="translate(213,1266)"><circle class="gy" r="6.8"/><use href="#sh"/><text class="l" x="6.5" y="-6">FMOD</text></g>
<g id="g-COMP" transform="translate(255,1280)"><circle class="R" r="6.8"/><use href="#sh"/><text class="l" x="6.5" y="-6">COMP</text></g>
<g id="g-COL22A1" transform="translate(40,1281)"><circle class="B" r="6.8"/><use href="#sh"/><text class="l" x="6.5" y="-6">COL22A1</text></g>
<g id="g-COL12A1" transform="translate(71,1299)"><circle class="B" r="6.8"/><use href="#sh"/><text class="l" x="6.5" y="-6">COL12A1</text></g>
<g id="g-COL11A1" transform="translate(39,1310)"><use href="#a2" class="R"/><use href="#b2" class="B"/><use href="#sh"/><text class="l" x="6.5" y="-6">COL11A1</text></g>
<g id="g-TNC" transform="translate(76,1358)"><circle class="R" r="6.8"/><use href="#sh"/><text class="l" x="6.5" y="-6">TNC</text></g>
</g>

<g id="nodes-H">
<g id="h-CIDEC" transform="translate(288,1197)"><circle class="gy" r="6.8"/><use href="#sh"/><text class="l" x="6.5" y="-6">CIDEC</text></g>
<g id="h-PLIN1" transform="translate(318,1182)"><circle class="PP" r="6.8"/><use href="#sh"/><text class="l" x="6.5" y="-6">PLIN1</text></g>
<g id="h-THRSP" transform="translate(349,1205)"><circle class="gy" r="6.8"/><use href="#sh"/><text class="l" x="6.5" y="-6">THRSP</text></g>
<g id="h-ACSM1" transform="translate(416,1227)"><circle class="gy" r="6.8"/><use href="#sh"/><text class="l" x="6.5" y="-6">ACSM1</text></g>
<g id="h-ELOVL6" transform="translate(371,1232)"><use href="#a2" class="FA"/><use href="#b2" class="T"/><use href="#sh"/><text class="l" x="6.5" y="-6">ELOVL6</text></g>
<g id="h-ELOVL5" transform="translate(412,1262)"><use href="#a2" class="T"/><use href="#b2" class="FA"/><use href="#sh"/><text class="l" x="6.5" y="-6">ELOVL5</text></g>
<g id="h-DGAT2" transform="translate(306,1260)"><circle class="gy" r="6.8"/><use href="#sh"/><text class="l" x="6.5" y="-6">DGAT2</text></g>
<g id="h-ADIPOQ" transform="translate(342,1259)"><use href="#a4" class="PP"/><use href="#b4" class="AM"/><use href="#c4" class="AM"/><use href="#d4" class="PP"/><use href="#sh"/><text class="l" x="6.5" y="-6">ADIPOQ</text></g>
<g id="h-FASN" transform="translate(329,1273)"><use href="#a3" class="FA"/><use href="#b3" class="AM"/><use href="#c3" class="O"/><use href="#sh"/></g>
<g id="h-SCD" transform="translate(372,1278)"><use href="#a4" class="T"/><use href="#b4" class="FA"/><use href="#c4" class="AM"/><use href="#d4" class="PP"/><use href="#sh"/><text class="l" x="6.5" y="-6">SCD</text></g>
<g id="h-ACACA" transform="translate(372,1303)"><use href="#a3" class="FA"/><use href="#b3" class="AM"/><use href="#c3" class="O"/><use href="#sh"/><text class="l" x="6.5" y="-6">ACACA</text></g>
<g id="h-PCK2" transform="translate(394,1319)"><use href="#a4" class="PP"/><use href="#b4" class="AM"/><use href="#c4" class="AM"/><use href="#d4" class="PP"/><use href="#sh"/><text class="l" x="6.5" y="-6">PCK2</text></g>
<g id="h-DNAJB1" transform="translate(468,1277)"><circle class="rg" r="11.5"/><circle class="gy" r="6.8"/><use href="#sh"/><text class="l" x="6.5" y="-6">DNAJB1</text></g>
<g id="h-HSPA8" transform="translate(451,1303)"><circle class="rg" r="11.5"/><circle class="gy" r="6.8"/><use href="#sh"/><text class="l" x="6.5" y="-6">HSPA8</text></g>
<g id="h-TKT" transform="translate(480,1334)"><circle class="gy" r="6.8"/><use href="#sh"/><text class="l" x="6.5" y="-6">TKT</text></g>
<g id="h-UCK2" transform="translate(537,1332)"><circle class="gy" r="6.8"/><use href="#sh"/><text class="l" x="6.5" y="-6">UCK2</text></g>
<g id="h-RBP4" transform="translate(397,1344)"><circle class="gy" r="6.8"/><use href="#sh"/><text class="l" x="6.5" y="-6">RBP4</text></g>
<g id="h-LEP" transform="translate(339,1336)"><circle class="AM" r="6.8"/><use href="#sh"/><text class="l" x="6.5" y="-6">LEP</text></g>
<g id="h-RET" transform="translate(292,1328)"><circle class="gy" r="6.8"/><use href="#sh"/><text class="l" x="6.5" y="-6">RET</text></g>
<g id="h-MT1A" transform="translate(278,1309)"><circle class="gy" r="6.8"/><use href="#sh"/><text class="l" x="6.5" y="-6">MT1A</text></g>
<g id="h-MT2A" transform="translate(246,1313)"><circle class="gy" r="6.8"/><use href="#sh"/><text class="l" x="6.5" y="-6">MT2A</text></g>
<g id="h-LOX" transform="translate(196,1298)"><circle class="gy" r="6.8"/><use href="#sh"/><text class="l" x="6.5" y="-6">LOX</text></g>
<g id="h-LUM" transform="translate(256,1338)"><circle class="gy" r="6.8"/><use href="#sh"/><text class="l" x="6.5" y="-6">LUM</text></g>
<g id="h-FMOD" transform="translate(224,1358)"><circle class="gy" r="6.8"/><use href="#sh"/><text class="l" x="6.5" y="-6">FMOD</text></g>
<g id="h-POSTN" transform="translate(243,1376)"><circle class="gy" r="6.8"/><use href="#sh"/><text class="l" x="6.5" y="-6">POSTN</text></g>
<g id="h-COMP" transform="translate(262,1365)"><use href="#a2" class="R"/><use href="#b2" class="B"/><use href="#sh"/><text class="l" x="6.5" y="-6">COMP</text></g>
<g id="h-GNAI1" transform="translate(190,1379)"><circle class="PA" r="6.8"/><use href="#sh"/><text class="l" x="6.5" y="-6">GNAI1</text></g>
<g id="h-TPBG" transform="translate(207,1406)"><circle class="gy" r="6.8"/><use href="#sh"/><text class="l" x="6.5" y="-6">TPBG</text></g>
<g id="h-MMP2" transform="translate(298,1383)"><circle class="gy" r="6.8"/><use href="#sh"/><text class="l" x="6.5" y="-6">MMP2</text></g>
<g id="h-ITGA10" transform="translate(256,1407)"><use href="#a2" class="R"/><use href="#b2" class="B"/><use href="#sh"/><text class="l" x="6.5" y="-6">ITGA10</text></g>
<g id="h-THBS1" transform="translate(286,1403)"><use href="#a2" class="R"/><use href="#b2" class="B"/><use href="#sh"/><text class="l" x="6.5" y="-6">THBS1</text></g>
<g id="h-SPP1" transform="translate(312,1407)"><use href="#a2" class="R"/><use href="#b2" class="B"/><use href="#sh"/><text class="l" x="6.5" y="-6">SPP1</text></g>
<g id="h-TNC" transform="translate(229,1422)"><use href="#a2" class="R"/><use href="#b2" class="B"/><use href="#sh"/><text class="l" x="6.5" y="-6">TNC</text></g>
<g id="h-ACTC1" transform="translate(280,1423)"><circle class="gy" r="6.8"/><use href="#sh"/><text class="l" x="6.5" y="-6">ACTC1</text></g>
<g id="h-THBS4" transform="translate(247,1447)"><use href="#a2" class="R"/><use href="#b2" class="B"/><use href="#sh"/><text class="l" x="6.5" y="-6">THBS4</text></g>
<g id="h-VCAN" transform="translate(236,1469)"><circle class="gy" r="6.8"/><use href="#sh"/><text class="l" x="6.5" y="-6">VCAN</text></g>
<g id="h-CD44" transform="translate(288,1468)"><circle class="R" r="6.8"/><use href="#sh"/><text class="l" x="6.5" y="-6">CD44</text></g>
<g id="h-TNMD" transform="translate(222,1513)"><circle class="gy" r="6.8"/><use href="#sh"/><text class="l" x="6.5" y="-6">TNMD</text></g>
<g id="h-MXRA5" transform="translate(185,1436)"><circle class="gy" r="6.8"/><use href="#sh"/><text class="l" x="6.5" y="-6">MXRA5</text></g>
<g id="h-COL12A1" transform="translate(139,1433)"><circle class="Y" r="6.8"/><use href="#sh"/><text class="l" x="6.5" y="-6">COL12A1</text></g>
<g id="h-COL18A1" transform="translate(109,1423)"><circle class="Y" r="6.8"/><use href="#sh"/><text class="l" x="6.5" y="-6">COL18A1</text></g>
<g id="h-COL11A1" transform="translate(85,1426)"><use href="#a3" class="R"/><use href="#b3" class="Y"/><use href="#c3" class="B"/><use href="#sh"/><text class="l" x="6.5" y="-6">COL11A1</text></g>
<g id="h-ADAMTS2" transform="translate(56,1443)"><circle class="gy" r="6.8"/><use href="#sh"/><text class="l" x="6.5" y="-6">ADAMTS2</text></g>
<g id="h-COL1A1" transform="translate(88,1453)"><use href="#a4" class="R"/><use href="#b4" class="B"/><use href="#c4" class="Y"/><use href="#d4" class="PD"/><use href="#sh"/></g>
<g id="h-COL22A1" transform="translate(114,1452)"><circle class="Y" r="6.8"/><use href="#sh"/><text class="l" x="6.5" y="-6">COL22A1</text></g>
<g id="h-MYH10" transform="translate(306,1445)"><circle class="gy" r="6.8"/><use href="#sh"/><text class="l" x="6.5" y="-6">MYH10</text></g>
<g id="h-MMP14" transform="translate(325,1443)"><circle class="gy" r="6.8"/><use href="#sh"/><text class="l" x="6.5" y="-6">MMP14</text></g>
<g id="h-HIST2H2BE" transform="translate(329,1476)"><circle class="gy" r="6.8"/><use href="#sh"/><text class="l" x="6.5" y="-6">HIST2H2BE</text></g>
<g id="h-ANXA2" transform="translate(299,1517)"><circle class="gy" r="6.8"/><use href="#sh"/><text class="l" x="6.5" y="-6">ANXA2</text></g>
<g id="h-S100A10" transform="translate(320,1544)"><circle class="gy" r="6.8"/><use href="#sh"/><text class="l" x="6.5" y="-6">S100A10</text></g>
<g id="h-ANXA1" transform="translate(305,1575)"><circle class="gy" r="6.8"/><use href="#sh"/><text class="l" x="6.5" y="-6">ANXA1</text></g>
<g id="h-KRT8" transform="translate(325,1625)"><circle class="rg" r="11.5"/><circle class="gy" r="6.8"/><use href="#sh"/><text class="l" x="6.5" y="-6">KRT8</text></g>
<g id="h-TMEM119" transform="translate(392,1455)"><circle class="gy" r="6.8"/><use href="#sh"/><text class="l" x="6.5" y="-6">TMEM119</text></g>
<g id="h-PDZD2" transform="translate(385,1484)"><circle class="gy" r="6.8"/><use href="#sh"/><text class="l" x="6.5" y="-6">PDZD2</text></g>
<g id="h-FAT1" transform="translate(424,1479)"><circle class="gy" r="6.8"/><use href="#sh"/><text class="l" x="6.5" y="-6">FAT1</text></g>
<g id="h-C1QB" transform="translate(403,1503)"><circle class="gy" r="6.8"/><use href="#sh"/><text class="l" x="6.5" y="-6">C1QB</text></g>
<g id="h-C1QC" transform="translate(435,1498)"><circle class="gy" r="6.8"/><use href="#sh"/><text class="l" x="6.5" y="-6">C1QC</text></g>
<g id="h-P4HA2" transform="translate(353,1397)"><circle class="gy" r="6.8"/><use href="#sh"/><text class="l" x="6.5" y="-6">P4HA2</text></g>
<g id="h-PYCR1" transform="translate(393,1391)"><circle class="gy" r="6.8"/><use href="#sh"/><text class="l" x="6.5" y="-6">PYCR1</text></g>
<g id="h-PDE3B" transform="translate(441,1393)"><circle class="gy" r="6.8"/><use href="#sh"/><text class="l" x="6.5" y="-6">PDE3B</text></g>
<g id="h-GSTM3" transform="translate(372,1416)"><circle class="rg" r="11.5"/><circle class="gy" r="6.8"/><use href="#sh"/><text class="l" x="6.5" y="-6">GSTM3</text></g>
<g id="h-MGST1" transform="translate(412,1409)"><circle class="gy" r="6.8"/><use href="#sh"/><text class="l" x="6.5" y="-6">MGST1</text></g>
<g id="h-GPC6" transform="translate(391,1435)"><circle class="gy" r="6.8"/><use href="#sh"/><text class="l" x="6.5" y="-6">GPC6</text></g>
<g id="h-GLCE" transform="translate(431,1428)"><circle class="gy" r="6.8"/><use href="#sh"/><text class="l" x="6.5" y="-6">GLCE</text></g>
</g>

<g id="nodes-I">
<g id="i-THRSP" transform="translate(77,1489)"><circle class="rg" r="11.5"/><circle class="gy" r="6.8"/><use href="#sh"/><text class="l" x="6.5" y="-6">THRSP</text></g>
<g id="i-FASN" transform="translate(67,1529)"><circle class="rg" r="11.5"/><circle class="R" r="6.8"/><use href="#sh"/><text class="l" x="6.5" y="-6">FASN</text></g>
<g id="i-ELOVL6" transform="translate(108,1529)"><circle class="rg" r="11.5"/><circle class="R" r="6.8"/><use href="#sh"/><text class="l" x="6.5" y="-6">ELOVL6</text></g>
<g id="i-LEP" transform="translate(37,1552)"><circle class="rg" r="11.5"/><circle class="gy" r="6.8"/><use href="#sh"/><text class="l" x="6.5" y="-6">LEP</text></g>
<g id="i-SCD" transform="translate(83,1562)"><circle class="rg" r="11.5"/><circle class="R" r="6.8"/><use href="#sh"/><text class="l" x="6.5" y="-6">SCD</text></g>
<g id="i-UCP2" transform="translate(45,1586)"><circle class="gy" r="6.8"/><use href="#sh"/><text class="l" x="6.5" y="-6">UCP2</text></g>
<g id="i-MX1" transform="translate(133,1544)"><circle class="rg" r="11.5"/><circle class="gy" r="6.8"/><use href="#sh"/><text class="l" x="6.5" y="-6">MX1</text></g>
<g id="i-IFI6" transform="translate(164,1568)"><circle class="rg" r="11.5"/><circle class="gy" r="6.8"/><use href="#sh"/><text class="l" x="6.5" y="-6">IFI6</text></g>
<g id="i-ISG15" transform="translate(126,1583)"><circle class="rg" r="11.5"/><circle class="gy" r="6.8"/><use href="#sh"/><text class="l" x="6.5" y="-6">ISG15</text></g>
<g id="i-HSPA8" transform="translate(97,1625)"><circle class="gy" r="6.8"/><use href="#sh"/><text class="l" x="6.5" y="-6">HSPA8</text></g>
</g>
</svg>
